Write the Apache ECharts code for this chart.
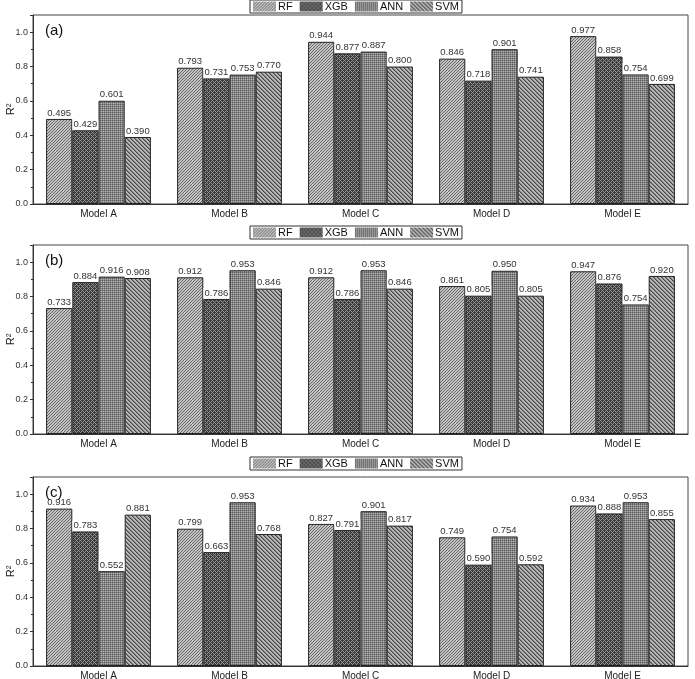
<!DOCTYPE html>
<html>
<head>
<meta charset="utf-8">
<script src="https://cdn.jsdelivr.net/npm/echarts@6/dist/echarts.min.js"></script>
<style>
html, body { margin: 0; padding: 0; background: #fff; }
#chart { width: 695px; height: 679px; }
</style>
</head>
<body>
<div id="chart"></div>
<script>
var categories = ['Model A', 'Model B', 'Model C', 'Model D', 'Model E'];
var seriesNames = ['RF', 'XGB', 'ANN', 'SVM'];
var panelLabels = ['(a)', '(b)', '(c)'];
var yTicks = [0, 0.2, 0.4, 0.6, 0.8, 1.0];

// panel (a)
var rfA  = [0.495, 0.793, 0.944, 0.846, 0.977];
var xgbA = [0.429, 0.731, 0.877, 0.718, 0.858];
var annA = [0.601, 0.753, 0.887, 0.901, 0.754];
var svmA = [0.390, 0.770, 0.800, 0.741, 0.699];
// panel (b)
var rfB  = [0.733, 0.912, 0.912, 0.861, 0.947];
var xgbB = [0.884, 0.786, 0.786, 0.805, 0.876];
var annB = [0.916, 0.953, 0.953, 0.950, 0.754];
var svmB = [0.908, 0.846, 0.846, 0.805, 0.920];
// panel (c)
var rfC  = [0.916, 0.799, 0.827, 0.749, 0.934];
var xgbC = [0.783, 0.663, 0.791, 0.590, 0.888];
var annC = [0.552, 0.953, 0.901, 0.754, 0.953];
var svmC = [0.881, 0.768, 0.817, 0.592, 0.855];

var panels = [[rfA, xgbA, annA, svmA], [rfB, xgbB, annB, svmB], [rfC, xgbC, annC, svmC]];

// hatch patterns drawn pixel by pixel
function makePattern(size, fn) {
    var c = document.createElement('canvas');
    c.width = size; c.height = size;
    var ctx = c.getContext('2d');
    var img = ctx.createImageData(size, size);
    for (var y = 0; y < size; y++) {
        for (var x = 0; x < size; x++) {
            var g = fn(x, y);
            var i = (y * size + x) * 4;
            img.data[i] = g; img.data[i + 1] = g; img.data[i + 2] = g; img.data[i + 3] = 255;
        }
    }
    ctx.putImageData(img, 0, 0);
    return { image: c, repeat: 'repeat' };
}
var patterns = [
    // RF: light gray, "/" lines
    makePattern(6, function (x, y) { return (x + y) % 3 === 0 ? 105 : 195; }),
    // XGB: dark crosshatch
    makePattern(4, function (x, y) { return ((x + y) % 4 === 0 || (x - y + 4) % 4 === 0) ? 145 : 60; }),
    // ANN: fine grid
    makePattern(4, function (x, y) { return (x % 2 === 0 || y % 2 === 0) ? (x % 2 === 0 && y % 2 === 0 ? 95 : 130) : 180; }),
    // SVM: "\" lines
    makePattern(4, function (x, y) { return (x - y + 4) % 4 === 0 ? 70 : ((x - y + 4) % 4 === 1 ? 125 : 185); })
];

var gridTops = [15, 245, 477];
var legendTops = [0, 226, 457];
var gridHeight = 189;

var option = {
    backgroundColor: '#fff',
    textStyle: { fontFamily: 'Liberation Sans, Arial, sans-serif' },
    title: [],
    legend: [],
    grid: [],
    xAxis: [],
    yAxis: [],
    series: []
};

panels.forEach(function (vals, p) {
    option.grid.push({
        left: 33, right: 7, top: gridTops[p], height: gridHeight,
        outerBoundsMode: 'none',
        show: true, borderColor: '#444', borderWidth: 1, backgroundColor: 'transparent'
    });
    option.legend.push({
        data: seriesNames,
        top: legendTops[p], left: 250,
        icon: 'rect',
        itemWidth: 23, itemHeight: 10, itemGap: 7,
        padding: [1, 3],
        borderColor: '#333', borderWidth: 1,
        itemStyle: { borderWidth: 0 },
        textStyle: { fontSize: 11, color: '#111', padding: [0, 0, 0, -3] }
    });
    option.title.push({
        text: panelLabels[p], left: 40, top: gridTops[p] + 3,
        textStyle: { fontSize: 15, fontWeight: 'normal', color: '#111' }
    });
    option.xAxis.push({
        type: 'category', gridIndex: p, data: categories,
        axisLine: { lineStyle: { color: '#333' } },
        axisTick: { length: 3, lineStyle: { color: '#333' } },
        axisLabel: { fontSize: 10, color: '#222', margin: 5 }
    });
    option.yAxis.push({
        type: 'value', gridIndex: p, min: 0, max: 1.1, interval: 0.2,
        name: 'R²', nameLocation: 'middle', nameGap: 17, nameRotate: 90,
        nameMoveOverlap: false,
        nameTextStyle: { fontSize: 11, color: '#222' },
        axisLine: { show: true, lineStyle: { color: '#333' } },
        axisTick: { show: true, length: 3, lineStyle: { color: '#333' } },
        minorTick: { show: true, splitNumber: 2, length: 2, lineStyle: { color: '#333' } },
        splitLine: { show: false },
        axisLabel: {
            fontSize: 9, color: '#333', margin: 5,
            formatter: function (v) {
                return yTicks.some(function (t) { return Math.abs(t - v) < 1e-6; }) ? v.toFixed(1) : '';
            }
        }
    });
    vals.forEach(function (data, s) {
        option.series.push({
            name: seriesNames[s], type: 'bar',
            xAxisIndex: p, yAxisIndex: p,
            data: data,
            barGap: '0%', barCategoryGap: '20%',
            itemStyle: { color: patterns[s], borderColor: '#222', borderWidth: 1 },
            label: {
                show: true, position: 'top', distance: 1,
                fontSize: 9.5, color: '#333',
                backgroundColor: '#fff', padding: [0, 1],
                formatter: function (d) { return d.value.toFixed(3); }
            }
        });
    });
});

var chart = echarts.init(document.getElementById('chart'));
chart.setOption(option);
</script>
</body>
</html>
